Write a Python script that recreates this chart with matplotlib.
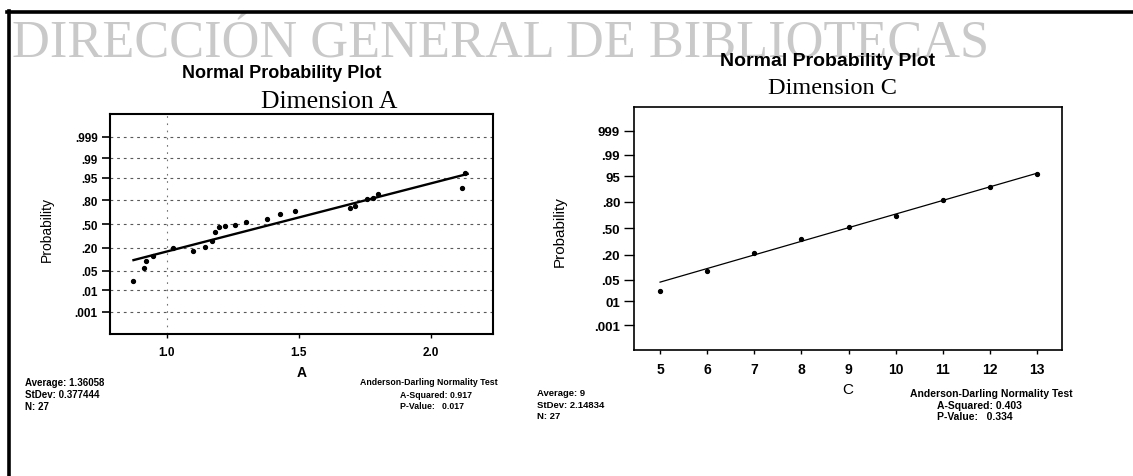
from statistics import NormalDist

import matplotlib
matplotlib.use("Agg")
import matplotlib.pyplot as plt
from matplotlib.lines import Line2D

W, H = 1133, 477

# niveles de probabilidad del eje y
prob_levels = [0.001, 0.01, 0.05, 0.20, 0.50, 0.80, 0.95, 0.99, 0.999]
labels_a = [".001", ".01", ".05", ".20", ".50", ".80", ".95", ".99", ".999"]
labels_c = [".001", "01", ".05", ".20", ".50", ".80", "95", ".99", "999"]

# Dimension A
a_x = [0.874, 0.915, 0.922, 0.947, 1.025, 1.098, 1.145, 1.170, 1.182, 1.199, 1.221, 1.259,
       1.300, 1.379, 1.429, 1.486, 1.694, 1.713, 1.758, 1.783, 1.800, 2.117, 2.130]
a_p = [0.023, 0.059, 0.099, 0.134, 0.200, 0.174, 0.212, 0.281, 0.386, 0.456, 0.472, 0.492,
       0.536, 0.571, 0.637, 0.684, 0.712, 0.742, 0.808, 0.821, 0.858, 0.900, 0.964]
a_line_x = [0.874, 2.140]
a_line_p = [0.102, 0.962]
a_xticks = [1.0, 1.5, 2.0]

# Dimension C
c_x = [5, 6, 7, 8, 9, 10, 11, 12, 13]
c_p = [0.023, 0.085, 0.212, 0.363, 0.508, 0.652, 0.816, 0.901, 0.956]
c_line_x = [5, 13]
c_line_p = [0.043, 0.959]
c_xticks = [5, 6, 7, 8, 9, 10, 11, 12, 13]

nd = NormalDist()


def z(ps):
    return [nd.inv_cdf(p) for p in ps]


def fx(x):
    return x / W


def fy(y):
    return 1 - y / H


sans = "Liberation Sans"
serif = "Liberation Serif"

fig = plt.figure(figsize=(W / 100, H / 100), dpi=100)

# marca de agua
fig.text(fx(12), fy(57), "DIRECCIÓN GENERAL DE BIBLIOTECAS", family=serif, fontsize=37.7,
         color="#c9c9c9", va="baseline", ha="left", zorder=0)

# marco escaneado
fig.add_artist(Line2D([fx(7), fx(1133)], [fy(13), fy(13)], color="k", lw=2.6))
fig.add_artist(Line2D([fx(9), fx(9)], [fy(12), fy(477)], color="k", lw=2.6))

# ---------------- panel A ----------------
ax1 = fig.add_axes([fx(110), fy(335), (493 - 110) / W, (335 - 115) / H])
ax1.set_xlim(0.785, 2.236)
ax1.set_ylim(-3.88, 3.89)
for zz in z(prob_levels):
    ax1.axhline(zz, color="0.35", lw=0.8, ls=(0, (2.5, 3.5)), zorder=1)
ax1.axvline(1.0, color="0.45", lw=0.8, ls=(0, (1.5, 5)), zorder=1)
ax1.plot(a_line_x, z(a_line_p), color="k", lw=1.7, zorder=3)
ax1.plot(a_x, z(a_p), "o", color="k", ms=2.8, zorder=4)
ax1.set_yticks(z(prob_levels))
ax1.set_yticklabels(labels_a, family=sans, fontsize=8.5, fontweight="bold")
ax1.set_xticks(a_xticks)
ax1.set_xticklabels(["1.0", "1.5", "2.0"], family=sans, fontsize=8.5, fontweight="bold")
ax1.tick_params(axis="y", length=6, width=1.2, pad=3)
ax1.tick_params(axis="x", length=3, width=1.0, pad=6)
for s in ax1.spines.values():
    s.set_linewidth(1.5)
ax1.set_xlabel("A", family=sans, fontsize=10, fontweight="bold", labelpad=5)
fig.text(fx(47), fy(229), "Probability", family=sans, fontsize=10, rotation=90,
         ha="center", va="center")

fig.text(fx(282), fy(78), "Normal Probability Plot", family=sans, fontsize=13,
         fontweight="bold", ha="center", va="baseline")
fig.text(fx(329), fy(108), "Dimension A", family=serif, fontsize=18.5,
         ha="center", va="baseline")

left_stats = ["Average: 1.36058", "StDev: 0.377444", "N: 27"]
for i, t in enumerate(left_stats):
    fig.text(fx(25), fy(383 + 12 * i), t, family=sans, fontsize=7, fontweight="bold",
             ha="left", va="center")
fig.text(fx(360), fy(383), "Anderson-Darling Normality Test", family=sans, fontsize=6.3,
         fontweight="bold", ha="left", va="center")
fig.text(fx(400), fy(396), "A-Squared: 0.917", family=sans, fontsize=6.3,
         fontweight="bold", ha="left", va="center")
fig.text(fx(400), fy(407), "P-Value:   0.017", family=sans, fontsize=6.3,
         fontweight="bold", ha="left", va="center")

# ---------------- panel C ----------------
ax2 = fig.add_axes([fx(634), fy(351), (1062 - 634) / W, (351 - 108) / H])
ax2.set_xlim(4.447, 13.53)
ax2.set_ylim(-3.87, 3.84)
ax2.plot(c_line_x, z(c_line_p), color="k", lw=0.9, zorder=3)
ax2.plot(c_x, z(c_p), "o", color="k", ms=2.8, zorder=4)
ax2.set_yticks(z(prob_levels))
ax2.set_yticklabels(labels_c, family=sans, fontsize=9.5, fontweight="bold")
ax2.set_xticks(c_xticks)
ax2.set_xticklabels([str(v) for v in c_xticks], family=sans, fontsize=10, fontweight="bold")
ax2.tick_params(axis="y", length=7, width=1.0, pad=3)
ax2.tick_params(axis="x", length=3, width=1.0, pad=6)
for s in ax2.spines.values():
    s.set_linewidth(1.2)
ax2.set_xlabel("C", family=sans, fontsize=11, labelpad=4)
fig.text(fx(560), fy(232), "Probability", family=sans, fontsize=11, rotation=90,
         ha="center", va="center")

fig.text(fx(828), fy(66), "Normal Probability Plot", family=sans, fontsize=14,
         fontweight="bold", ha="center", va="baseline")
fig.text(fx(832), fy(94), "Dimension C", family=serif, fontsize=17.5,
         ha="center", va="baseline")

right_stats = ["Average: 9", "StDev: 2.14834", "N: 27"]
for i, t in enumerate(right_stats):
    fig.text(fx(537), fy(393 + 12 * i), t, family=sans, fontsize=6.8, fontweight="bold",
             ha="left", va="center")
fig.text(fx(910), fy(394), "Anderson-Darling Normality Test", family=sans, fontsize=7.5,
         fontweight="bold", ha="left", va="center")
fig.text(fx(937), fy(406), "A-Squared: 0.403", family=sans, fontsize=7.5,
         fontweight="bold", ha="left", va="center")
fig.text(fx(937), fy(417), "P-Value:   0.334", family=sans, fontsize=7.5,
         fontweight="bold", ha="left", va="center")

fig.savefig("out.png", dpi=100)
plt.close(fig)
